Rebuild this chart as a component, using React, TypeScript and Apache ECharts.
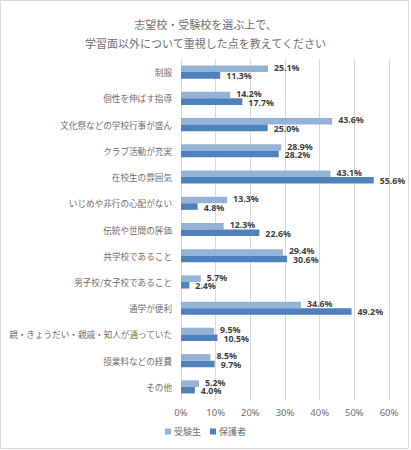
import React, { useEffect, useRef } from 'react';
import * as echarts from 'echarts';

const categories = [
  '制服',
  '個性を伸ばす指導',
  '文化祭などの学校行事が盛ん',
  'クラブ活動が充実',
  '在校生の雰囲気',
  'いじめや非行の心配がない',
  '伝統や世間の評価',
  '共学校であること',
  '男子校/女子校であること',
  '通学が便利',
  '親・きょうだい・親戚・知人が通っていた',
  '授業料などの経費',
  'その他',
];

const students = [25.1, 14.2, 43.6, 28.9, 43.1, 13.3, 12.3, 29.4, 5.7, 34.6, 9.5, 8.5, 5.2];
const parents = [11.3, 17.7, 25.0, 28.2, 55.6, 4.8, 22.6, 30.6, 2.4, 49.2, 10.5, 9.7, 4.0];

const FONT = '"Noto Sans CJK JP", "Noto Sans", sans-serif';
const NUM_FONT = '"Noto Sans", "Noto Sans CJK JP", sans-serif';

// 値ラベル (バーの右側)
const makeLabel = (dy: number) => ({
  show: true,
  position: 'right',
  distance: 6,
  offset: [0, dy],
  color: '#404040',
  fontSize: 8.8,
  lineHeight: 7,
  fontWeight: 'bold',
  fontFamily: NUM_FONT,
  formatter: (p: any) => p.value.toFixed(1) + '%',
});

function App() {
  const chartRef = useRef<HTMLDivElement | null>(null);

  useEffect(() => {
    if (!chartRef.current) return undefined;

    const myChart = echarts.init(chartRef.current, null, { renderer: 'svg' });

    const option = {
      animation: false,
      textStyle: { fontFamily: FONT },
      title: {
        text: '志望校・受験校を選ぶ上で、\n学習面以外について重視した点を教えてください',
        left: 'center',
        top: 9,
        textStyle: {
          color: '#707070',
          fontSize: 11,
          fontWeight: 'normal',
          lineHeight: 19,
          fontFamily: FONT,
        },
      },
      graphic: [
        {
          type: 'rect',
          shape: { x: 0.5, y: 0.5, width: 408, height: 448 },
          style: { fill: 'none', stroke: '#D9D9D9', lineWidth: 1 },
          silent: true,
        },
      ],
      legend: {
        bottom: 9,
        left: 'center',
        itemWidth: 6,
        itemHeight: 6,
        itemGap: 9,
        icon: 'rect',
        textStyle: { color: '#707070', fontSize: 9, fontFamily: FONT, padding: [0, 0, 0, -2] },
        data: ['受験生', '保護者'],
      },
      grid: { left: 181, right: 22, top: 59, bottom: 50, outerBoundsMode: 'none' },
      xAxis: {
        type: 'value',
        min: 0,
        max: 60,
        interval: 10,
        axisLabel: {
          formatter: '{value}%',
          color: '#707070',
          fontSize: 9.5,
          margin: 8,
          fontFamily: NUM_FONT,
        },
        splitLine: { lineStyle: { color: '#D9D9D9' } },
        axisLine: { show: false },
        axisTick: { show: false },
      },
      yAxis: {
        type: 'category',
        inverse: true,
        data: categories,
        axisLabel: { color: '#707070', fontSize: 8.6, margin: 9, fontFamily: FONT },
        axisLine: { show: false },
        axisTick: { show: false },
      },
      series: [
        {
          name: '受験生',
          type: 'bar',
          data: students,
          barCategoryGap: '50%',
          barGap: '0%',
          itemStyle: { color: '#95B3D7' },
          label: makeLabel(-1),
        },
        {
          name: '保護者',
          type: 'bar',
          data: parents,
          barCategoryGap: '50%',
          barGap: '0%',
          itemStyle: { color: '#4F81BD' },
          label: makeLabel(1),
        },
      ],
    };

    myChart.setOption(option as any);

    return () => {
      myChart.dispose();
    };
  }, []);

  return (
    <div
      ref={chartRef}
      style={{
        position: 'absolute',
        left: 0,
        top: 0,
        width: '411px',
        height: '450px',
        background: '#ffffff',
      }}
    />
  );
}

export default App;
